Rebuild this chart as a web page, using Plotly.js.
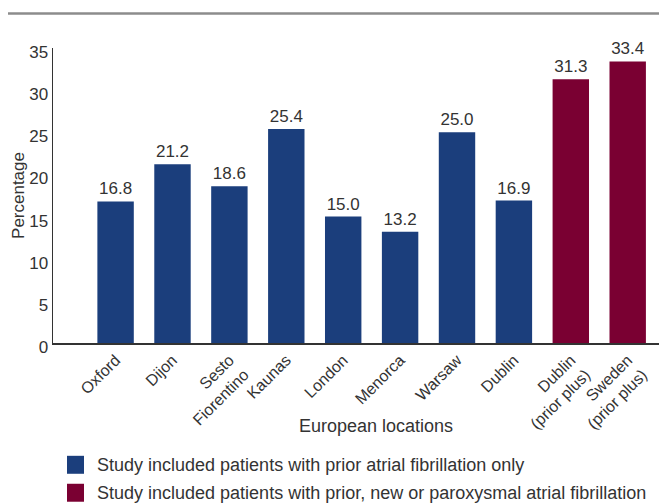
<!DOCTYPE html>
<html><head><meta charset="utf-8">
<script src="https://cdn.plot.ly/plotly-3.0.1.min.js"></script>
<style>html,body{margin:0;padding:0;background:#fff;}#chart{width:659px;height:503px;}</style>
</head><body><div id="chart"></div>
<script>
const catsPrior = ["Oxford","Dijon","Sesto<br>Fiorentino","Kaunas","London","Menorca","Warsaw","Dublin"];
const valsPrior = [16.8,21.2,18.6,25.4,15.0,13.2,25.0,16.9];
const catsPlus = ["Dublin<br>(prior plus)","Sweden<br>(prior plus)"];
const valsPlus = [31.3,33.4];
const seriesNames = ["Study included patients with prior atrial fibrillation only","Study included patients with prior, new or paroxysmal atrial fibrillation"];
const yTicks = [0,5,10,15,20,25,30,35];
const colors = ["#1b3e7c","#7a0032"];
const fontFam = "'Liberation Sans',Arial,sans-serif";
const allCats = catsPrior.concat(catsPlus);

const mk = (x,y,c,name)=>({type:'bar',x:x,y:y,name:name,marker:{color:c},
  text:y.map(v=>v.toFixed(1)),textposition:'outside',cliponaxis:false,
  textfont:{family:fontFam,size:17,color:'#333'},width:0.64,showlegend:false,hoverinfo:'x+y'});
const data=[mk(catsPrior,valsPrior,colors[0],seriesNames[0]),mk(catsPlus,valsPlus,colors[1],seriesNames[1])];

const M={l:53,r:0,t:47.5,b:160};
const pw=659-M.l-M.r, ph=503-M.t-M.b;
const px=x=>(x-M.l)/pw, py=y=>(503-M.b-y)/ph;

const layout={
 width:659,height:503,margin:M,
 paper_bgcolor:'#fff',plot_bgcolor:'#fff',barmode:'overlay',
 font:{family:fontFam,size:16,color:'#333'},
 xaxis:{type:'category',categoryorder:'array',categoryarray:allCats,range:[-1.1,9.55],
   tickangle:-45,showline:true,linecolor:'#333',linewidth:1.5,ticks:'',showgrid:false,zeroline:false,
   tickfont:{family:fontFam,size:16,color:'#333'}},
 yaxis:{range:[0,35],tickvals:yTicks,showline:true,linecolor:'#333',linewidth:1.5,ticks:'',showgrid:false,zeroline:false,
   ticklabelshift:4,ticklabelstandoff:0,
   tickfont:{family:fontFam,size:17,color:'#333'},
   title:{text:'Percentage',font:{family:fontFam,size:17,color:'#333'},standoff:0}},
 shapes:[
  {type:'line',xref:'paper',yref:'paper',x0:px(8),x1:px(662),y0:py(13),y1:py(13),line:{color:'#8c8c8c',width:2.5}},
  {type:'rect',xref:'paper',yref:'paper',x0:px(67),x1:px(84),y0:py(456),y1:py(474),fillcolor:colors[0],line:{width:0}},
  {type:'rect',xref:'paper',yref:'paper',x0:px(67),x1:px(84),y0:py(484),y1:py(502),fillcolor:colors[1],line:{width:0}}
 ],
 annotations:[
  {xref:'paper',yref:'paper',x:px(376),y:py(426),xanchor:'center',yanchor:'middle',showarrow:false,text:'European locations',font:{family:fontFam,size:18,color:'#333'}},
  {xref:'paper',yref:'paper',x:px(95),y:py(465),xanchor:'left',yanchor:'middle',showarrow:false,text:seriesNames[0],font:{family:fontFam,size:18,color:'#333'}},
  {xref:'paper',yref:'paper',x:px(95),y:py(493),xanchor:'left',yanchor:'middle',showarrow:false,text:seriesNames[1],font:{family:fontFam,size:18,color:'#333'}}
 ]
};
Plotly.newPlot('chart',data,layout,{displayModeBar:false,staticPlot:true});
</script></body></html>
